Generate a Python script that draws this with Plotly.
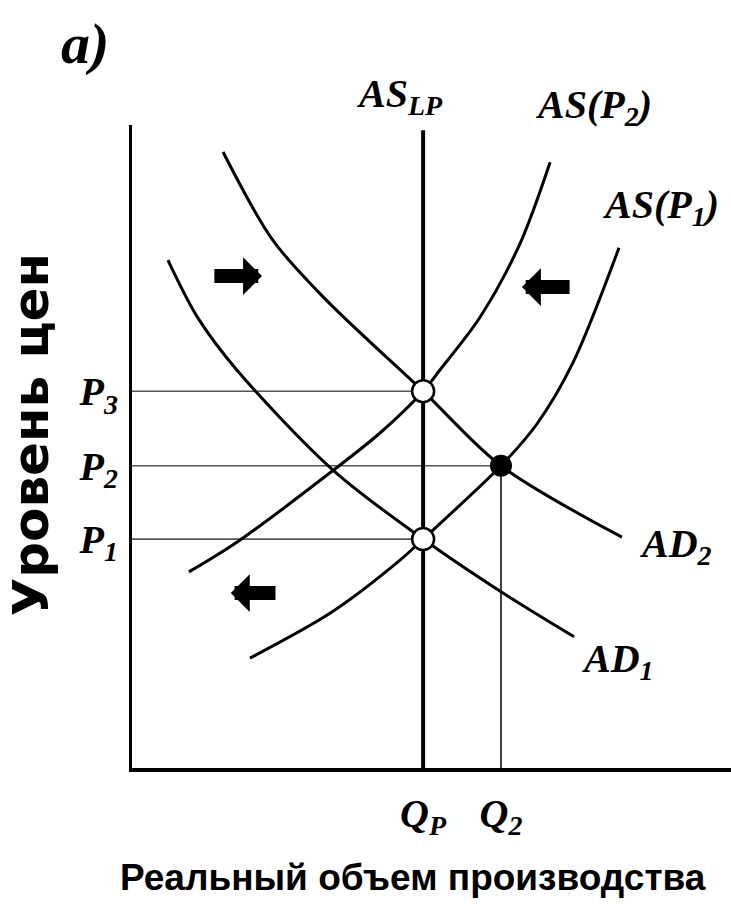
import plotly.graph_objects as go

# quantities and price levels (axis units)
q_p = 4.86
q_2 = 6.16
p_levels = [3.56, 4.70, 5.86]
p_labels = ['P<sub>1</sub>', 'P<sub>2</sub>', 'P<sub>3</sub>']
q_labels = ['Q<sub>P</sub>', 'Q<sub>2</sub>']
as_lp_top = 9.92

# aggregate demand curves
ad1_q = [0.60, 1.10, 1.75, 3.36, 4.86, 6.16, 7.38]
ad1_p = [7.90, 7.00, 6.19, 4.63, 3.56, 2.74, 2.04]
ad2_q = [1.52, 2.35, 3.24, 4.86, 6.16, 8.18]
ad2_p = [9.58, 8.21, 7.28, 5.86, 4.70, 3.59]

# short-run supply curves
as2_q = [0.95, 1.75, 3.36, 4.14, 4.86, 5.14, 5.81, 6.48, 6.98]
as2_p = [3.05, 3.51, 4.63, 5.21, 5.86, 6.19, 7.01, 8.16, 9.42]
as1_q = [1.97, 3.31, 4.47, 4.86, 6.16, 6.76, 7.36, 8.13]
as1_p = [1.71, 2.41, 3.23, 3.56, 4.70, 5.35, 6.30, 8.09]

serif = 'Liberation Serif'
lab_font = dict(family=serif, size=40, color='black', weight='bold', style='italic')

fig = go.Figure()

# guide lines to the price axis
guide_q = [q_p, q_2, q_p]
for q, p in zip(guide_q, p_levels):
    fig.add_trace(go.Scatter(x=[0, q], y=[p, p], mode='lines',
                             line=dict(color='#555555', width=1.6), hoverinfo='skip'))
fig.add_trace(go.Scatter(x=[q_2, q_2], y=[0, p_levels[1]], mode='lines',
                         line=dict(color='black', width=1.5), hoverinfo='skip'))

# long-run supply
fig.add_trace(go.Scatter(x=[q_p, q_p], y=[0, as_lp_top], mode='lines',
                         line=dict(color='black', width=4)))

for xs, ys in [(ad1_q, ad1_p), (ad2_q, ad2_p), (as2_q, as2_p), (as1_q, as1_p)]:
    fig.add_trace(go.Scatter(x=xs, y=ys, mode='lines',
                             line=dict(color='black', width=3, shape='spline', smoothing=0.9)))

# equilibrium points
fig.add_trace(go.Scatter(x=[q_p, q_p], y=[p_levels[0], p_levels[2]], mode='markers',
                         marker=dict(size=22, color='white', line=dict(color='black', width=2.5))))
fig.add_trace(go.Scatter(x=[q_2], y=[p_levels[1]], mode='markers',
                         marker=dict(size=22, color='black')))

# curve labels, placed in paper units (axes run 0..10)
labels = [
    ('<i>a)</i>', -0.078, 1.126, 58),
    ('AS<sub>LP</sub>', 0.447, 1.045, 40),
    ('AS(P<sub>2</sub>)', 0.771, 1.028, 40),
    ('AS(P<sub>1</sub>)', 0.883, 0.873, 40),
    ('AD<sub>2</sub>', 0.907, 0.345, 40),
    ('AD<sub>1</sub>', 0.811, 0.166, 40),
]
for txt, x, y, sz in labels:
    fig.add_annotation(x=x, y=y, xref='paper', yref='paper', text=txt, showarrow=False,
                       font=dict(lab_font, size=sz), xanchor='center', yanchor='middle')

# axis titles
fig.add_annotation(x=0.469, y=-0.171, xref='paper', yref='paper', showarrow=False,
                   text='Реальный объем производства', xanchor='center', yanchor='middle',
                   font=dict(family='Liberation Sans', size=37, color='black', weight='bold'))
fig.add_annotation(x=-0.168, y=0.518, xref='paper', yref='paper', showarrow=False,
                   text='Уровень цен', textangle=-90, xanchor='center', yanchor='middle',
                   font=dict(family='DejaVu Sans', size=50, color='black', weight='bold'))

# shift arrows
for tip, tail, y in [(2.17, 1.35, 7.65), (6.51, 7.33, 7.48), (1.65, 2.42, 2.72)]:
    fig.add_annotation(x=tip, y=y, ax=tail, ay=y, axref='x', ayref='y', text='',
                       showarrow=True, arrowhead=1, arrowwidth=14, arrowsize=0.45,
                       arrowcolor='black', standoff=0)

fig.update_layout(
    width=731, height=910,
    margin=dict(l=132, r=0, t=125, b=142),
    plot_bgcolor='white', paper_bgcolor='white',
    showlegend=False,
    xaxis=dict(range=[0, 10], showgrid=False, zeroline=False,
               showline=True, linecolor='black', linewidth=4,
               tickvals=[q_p, q_2], ticktext=q_labels,
               ticks='outside', ticklen=7, tickcolor='rgba(0,0,0,0)',
               tickfont=lab_font),
    yaxis=dict(range=[0, 10], showgrid=False, zeroline=False,
               showline=True, linecolor='black', linewidth=3,
               tickvals=p_levels, ticktext=p_labels,
               ticks='outside', ticklen=3, tickcolor='rgba(0,0,0,0)',
               tickfont=lab_font),
)

fig.write_html("out.html", config={'displayModeBar': False},
               post_script="document.body.style.margin='0';")
